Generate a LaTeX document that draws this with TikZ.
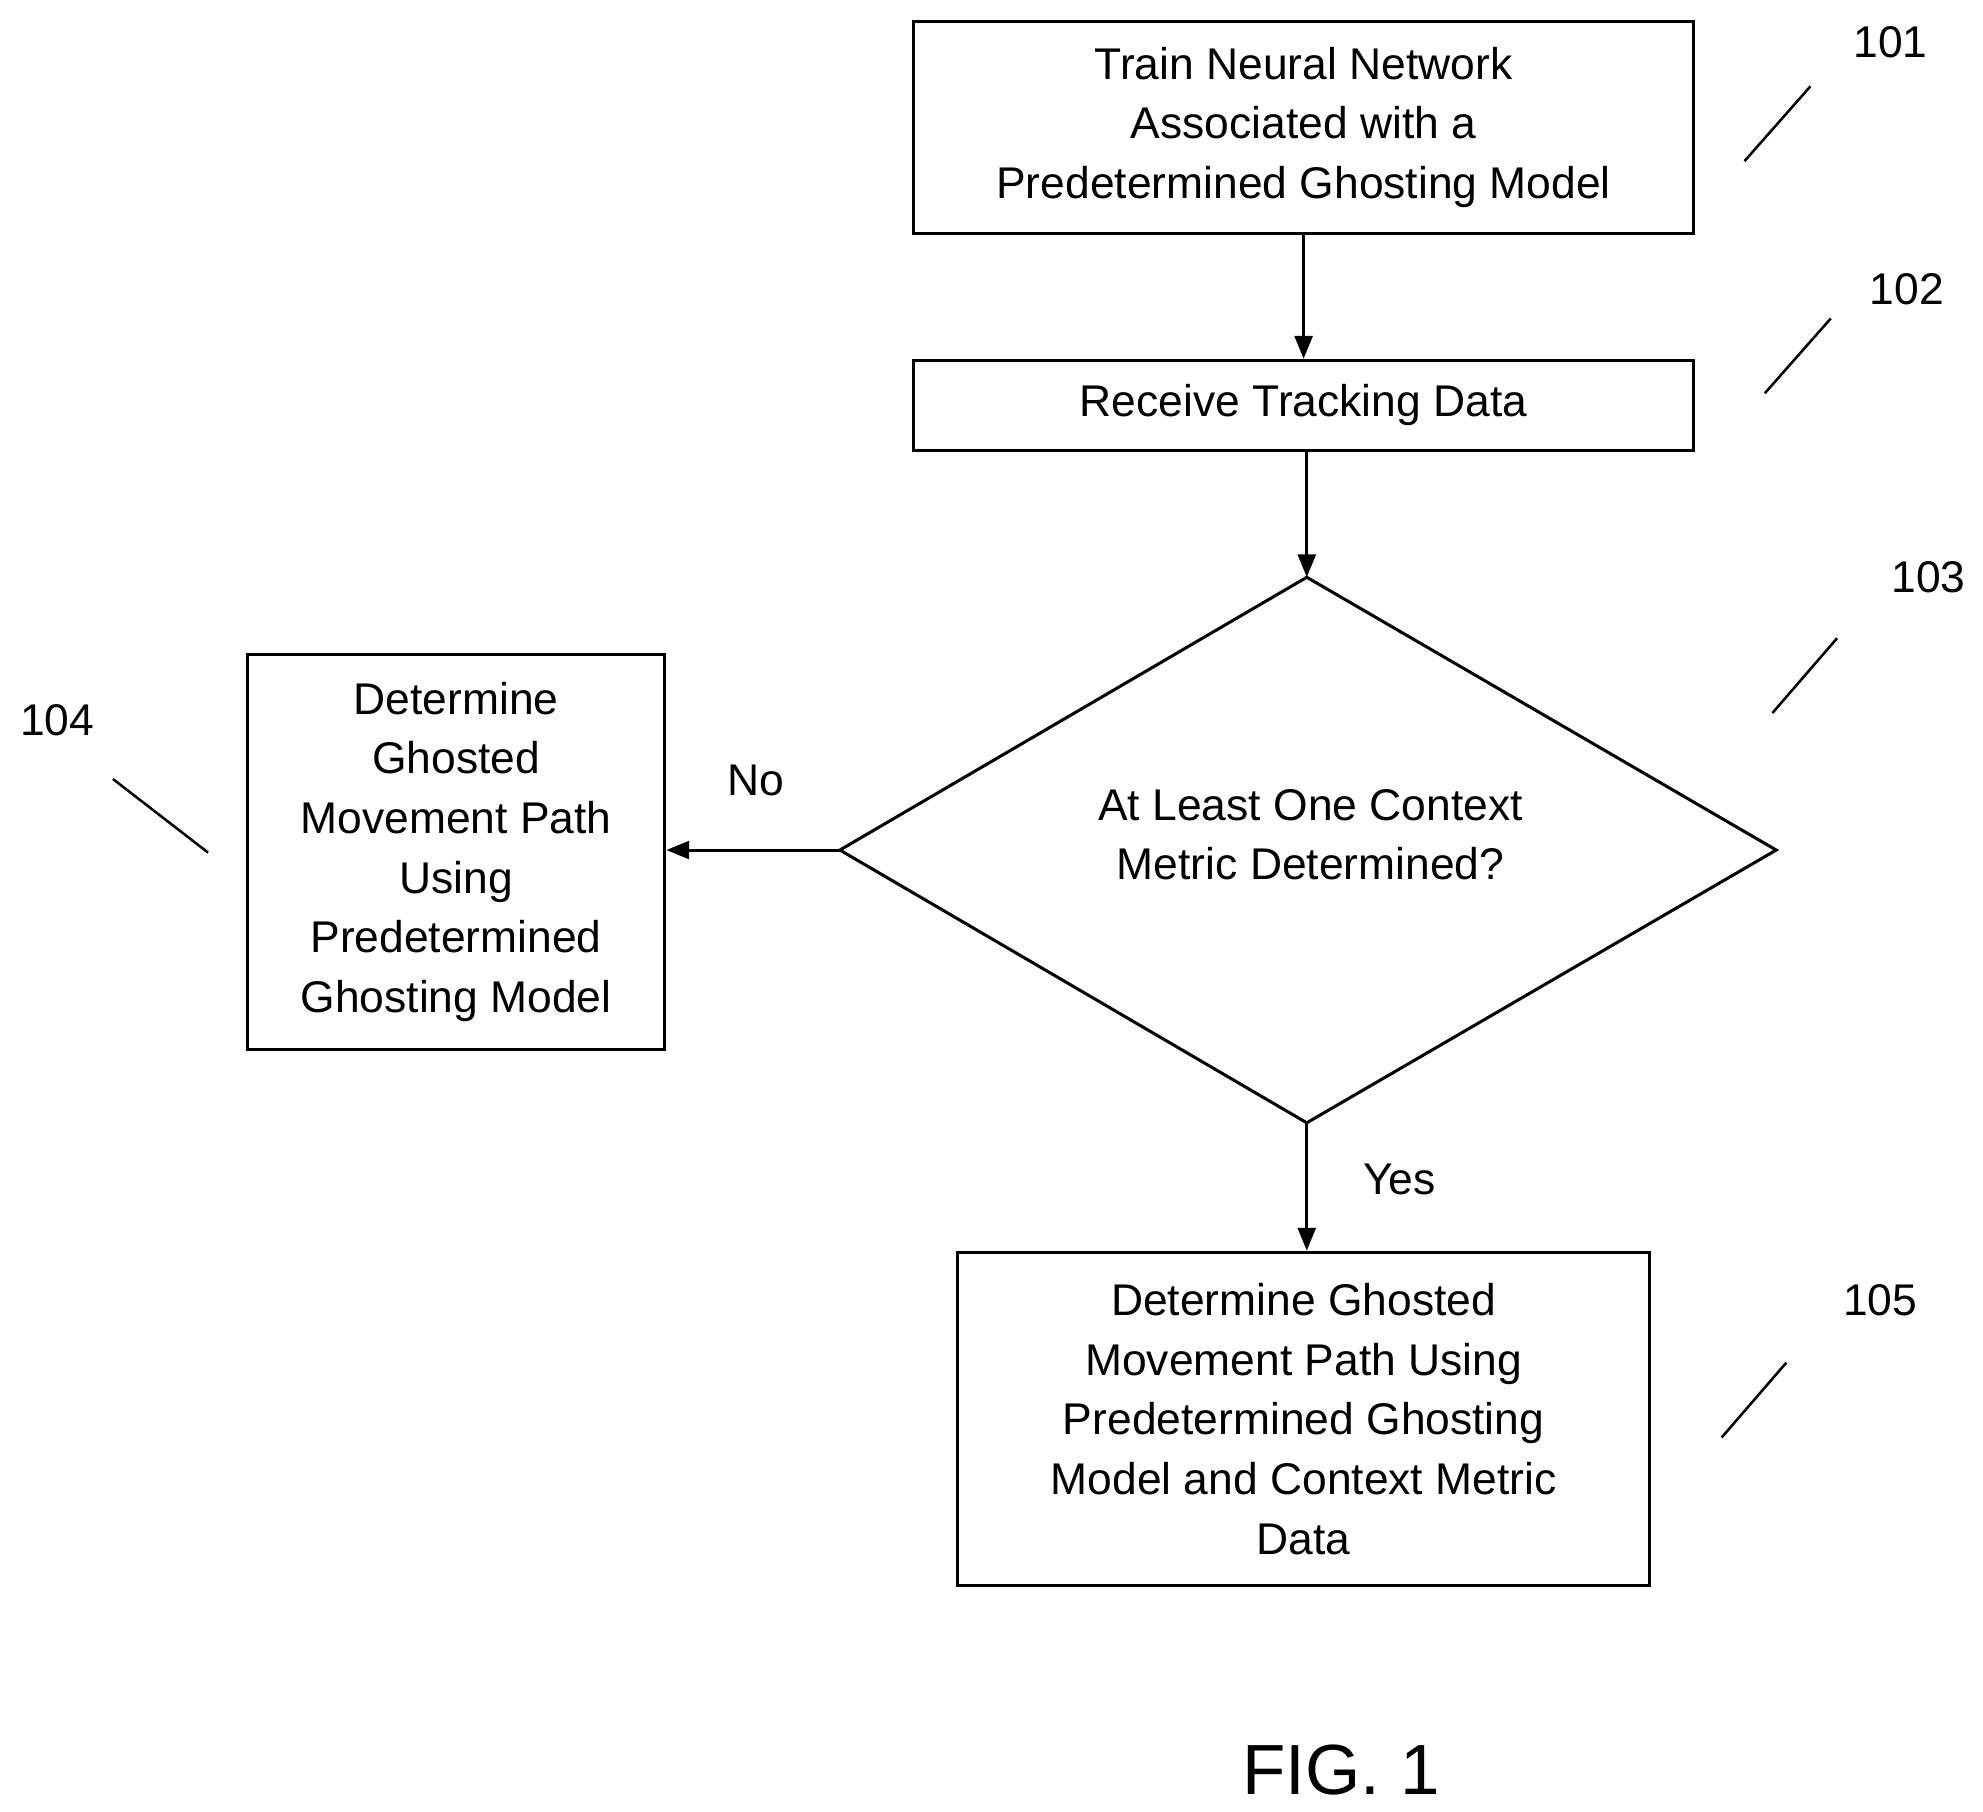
\documentclass[tikz,border=0pt]{standalone}
\usepackage{fontspec}
\setmainfont{Liberation Sans}
\usetikzlibrary{arrows.meta}
\begin{document}
\begin{tikzpicture}[x=0.5pt,y=-0.5pt,
  box/.style={draw,line width=1.2pt,align=center,inner sep=0pt,font=\fontsize{17.5}{23.5}\selectfont},
  lbl/.style={font=\fontsize{17.5}{21}\selectfont},
  arr/.style={line width=1.2pt,-{Triangle[length=9pt,width=7pt]}},
  lead/.style={line width=1pt}]
\useasboundingbox (0,0) rectangle (1563,1428);
\node[box,minimum width=307.5pt,minimum height=83.5pt] (b1) at (1027.5,100.5) {Train Neural Network\\Associated with a\\Predetermined Ghosting Model};
\node[box,minimum width=307.5pt,minimum height=35.5pt] (b2) at (1027.5,319.5) {Receive Tracking Data};
\coordinate (dt) at (1030,455); \coordinate (db) at (1030,885);
\coordinate (dl) at (662,670); \coordinate (dr) at (1400,670);
\draw[line width=1.2pt] (dt)--(dr)--(db)--(dl)--cycle;
\node[box,draw=none] (d) at (1033,658) {At Least One Context\\Metric Determined?};
\node[box,minimum width=164.5pt,minimum height=155.5pt] (b4) at (359.5,671.5) {Determine\\Ghosted\\Movement Path\\Using\\Predetermined\\Ghosting Model};
\node[box,minimum width=272.5pt,minimum height=131.5pt] (b5) at (1027.5,1118.5) {Determine Ghosted\\Movement Path Using\\Predetermined Ghosting\\Model and Context Metric\\Data};
\draw[arr] (b1) -- (b2);
\draw[arr] (b2.south -| dt) -- (dt);
\draw[arr] (dl) -- (b4.east |- dl);
\draw[arr] (db) -- (b5.north -| db);
\node[lbl] (no) at (596,615) {No};
\node[lbl] (yes) at (1103,930) {Yes};
\node[lbl] (n1) at (1490,33) {101};
\node[lbl] (n2) at (1503,228) {102};
\node[lbl] (n3) at (1520,455) {103};
\node[lbl] (n4) at (45,568) {104};
\node[lbl] (n5) at (1482,1025) {105};
\coordinate (l1a) at (1375,127); \coordinate (l1b) at (1427,68);
\coordinate (l2a) at (1391,310); \coordinate (l2b) at (1443,251);
\coordinate (l3a) at (1397,562); \coordinate (l3b) at (1448,503);
\coordinate (l4a) at (89,614); \coordinate (l4b) at (164,672);
\coordinate (l5a) at (1357,1133); \coordinate (l5b) at (1408,1074);
\draw[lead] (l1a)--(l1b); \draw[lead] (l2a)--(l2b); \draw[lead] (l3a)--(l3b);
\draw[lead] (l4a)--(l4b); \draw[lead] (l5a)--(l5b);
\node[font=\fontsize{28}{32}\selectfont] (fig) at (1057,1395) {FIG. 1};
\end{tikzpicture}
\end{document}
